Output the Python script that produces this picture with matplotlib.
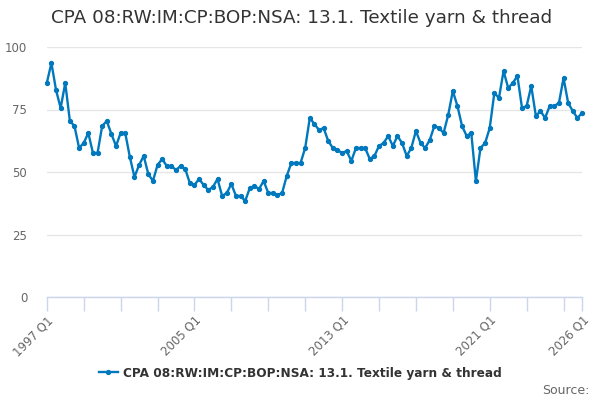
import numpy as np
import pandas as pd
import matplotlib
matplotlib.use("Agg")
import matplotlib.pyplot as plt

TITLE = "CPA 08:RW:IM:CP:BOP:NSA: 13.1. Textile yarn & thread"

# quarterly values, 1997 Q1 onwards
values = [
    85.6, 93.6, 82.8, 75.6, 85.6, 70.4, 68.4, 59.6, 61.6, 65.6,
    57.6, 57.6, 68.4, 70.4, 65.2, 60.4, 65.6, 65.6, 56.0, 48.0,
    52.8, 56.4, 49.2, 46.4, 52.8, 55.2, 52.4, 52.4, 50.8, 52.4,
    51.2, 45.6, 44.8, 47.2, 44.8, 42.8, 44.0, 47.2, 40.4, 41.6,
    45.2, 40.4, 40.4, 38.4, 43.6, 44.4, 43.2, 46.4, 41.6, 41.6,
    40.8, 41.6, 48.4, 53.6, 53.6, 53.6, 59.6, 71.6, 69.2, 66.8,
    67.6, 62.4, 59.6, 58.8, 57.6, 58.4, 54.4, 59.6, 59.6, 59.6,
    55.2, 56.4, 60.4, 61.6, 64.4, 60.4, 64.4, 61.6, 56.4, 59.6,
    66.4, 61.6, 59.6, 62.8, 68.4, 67.6, 65.6, 72.8, 82.4, 76.4,
    68.4, 64.4, 65.6, 46.4, 59.6, 61.6, 67.6, 81.6, 79.6, 90.4,
    83.6, 85.6, 88.4, 75.6, 76.4, 84.4, 72.4, 74.4, 71.6, 76.4,
    76.4, 77.6, 87.6, 77.6, 74.4, 71.6, 73.6,
]
quarters = pd.period_range("1997Q1", periods=len(values), freq="Q")
labels = [f"{q.year} Q{q.quarter}" for q in quarters]

label_years = [1997, 2005, 2013, 2021, 2026]
tick_idx = list(range(0, len(values), 8)) + [len(values) - 1]
tick_lab = [labels[i] if quarters[i].year in label_years else "" for i in tick_idx]

line_col = "#0078BD"
axis_col = "#ccd6eb"
text_col = "#666666"

fig = plt.figure(figsize=(6, 4), dpi=100)
ax = fig.add_axes([0.078, 0.2575, 0.892, 0.625])

x = np.arange(len(values))
ax.plot(x, values, color=line_col, lw=1.7, marker="o", ms=2.8, label=TITLE, clip_on=False)

ax.set_xlim(0, len(values) - 1)
ax.set_ylim(0, 100)
ax.set_yticks([0, 25, 50, 75, 100])
ax.grid(axis="y", color="#e6e6e6", lw=1)
ax.set_axisbelow(True)
for s in ["top", "right", "left"]:
    ax.spines[s].set_visible(False)
ax.spines["bottom"].set_color(axis_col)
ax.spines["bottom"].set_linewidth(1)

ax.set_xticks(tick_idx)
ax.set_xticklabels(tick_lab, rotation=45, ha="right", rotation_mode="anchor")
ax.tick_params(axis="x", colors=axis_col, length=10, width=1, labelcolor=text_col, labelsize=8.5, pad=2)
ax.tick_params(axis="y", length=0, labelcolor=text_col, labelsize=8.5, pad=14)

fig.text(0.502, 0.955, TITLE, ha="center", va="center", fontsize=13.2, color="#333333")

leg = fig.legend(loc="center", bbox_to_anchor=(0.5, 0.067), frameon=False,
                 prop={"weight": "bold", "size": 8.7}, handlelength=1.6, handletextpad=0.4)
for t in leg.get_texts():
    t.set_color("#333333")

fig.text(0.982, 0.025, "Source:", ha="right", va="center", fontsize=9, color=text_col)

fig.savefig("out.png", dpi=100)
